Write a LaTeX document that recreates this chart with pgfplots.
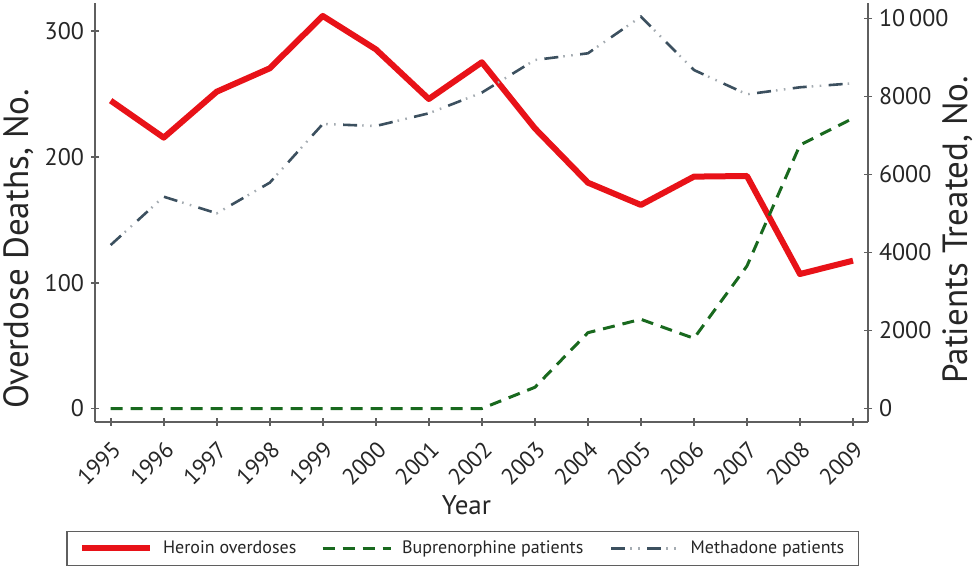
\documentclass[border=0pt]{standalone}
\usepackage{fontspec}
\setmainfont{PT Sans}
\usepackage{pgfplots}
\pgfplotsset{compat=1.18}
\definecolor{herored}{RGB}{232,18,24}
\definecolor{bupgreen}{RGB}{25,105,30}
\definecolor{methdark}{RGB}{60,80,95}
\definecolor{methlight}{RGB}{165,172,178}
\definecolor{axgray}{RGB}{95,95,95}
\begin{document}
\begin{tikzpicture}
\pgfplotsset{
  common/.style={
    width=386.5pt, height=209.35pt, scale only axis,
    xmin=1994.704, xmax=2009.283,
    tick align=outside, major tick length=4pt,
    tick style={axgray, line width=0.9pt},
    tick label style={font=\fontsize{12}{13}\selectfont, text=black!85},
    scaled x ticks=false, scaled y ticks=false,
    /pgf/number format/assume math mode=true,
    /pgf/number format/1000 sep={},
  },
  noarrows/.style={
    axis line style={axgray, line width=0.9pt, -},
    every outer x axis line/.append style={-},
    every outer y axis line/.append style={-},
    every inner x axis line/.append style={-},
    every inner y axis line/.append style={-},
    x axis line style={-}, y axis line style={-},
  }
}
\begin{axis}[common,
  axis x line=bottom, axis y line=left, noarrows,
  ymin=-10.5, ymax=322.3,
  ytick={0,100,200,300},
  xtick={1995,1996,...,2009},
  xticklabel style={rotate=45, anchor=north east, font=\fontsize{11.5}{12}\selectfont},
  xticklabel shift=2pt,
  xlabel={Year}, ylabel={Overdose Deaths, No.},
  xlabel style={at={(axis description cs:0.4806,-0.2228)}, anchor=base, font=\fontsize{13.5}{14}\selectfont, text=black!85},
  ylabel style={at={(axis description cs:-0.086,0.4125)}, anchor=base, font=\fontsize{17.5}{18}\selectfont, text=black!85},
]
\addplot[herored, line width=3pt, line join=round] coordinates {
(1995,244.7) (1996,215.3) (1997,251.8) (1998,270.4) (1999,312.0)
(2000,285.5) (2001,246.0) (2002,275.2) (2003,222.7) (2004,179.5)
(2005,161.8) (2006,184.3) (2007,184.8) (2008,106.9) (2009,117.5)};
\end{axis}
\begin{axis}[common,
  axis x line=none, axis y line=right, noarrows,
  ymin=-338, ymax=10397,
  ytick={0,2000,4000,6000,8000,10000},
  yticklabels={0,2000,4000,6000,8000,10\,000},
  ylabel={Patients Treated, No.},
  ylabel style={at={(axis description cs:1.129,0.458)}, anchor=base, font=\fontsize{17.5}{18}\selectfont, text=black!85},
  legend columns=3,
  legend style={at={(axis description cs:0.4759,-0.3028)}, anchor=center,
    draw=axgray, line width=0.6pt, inner xsep=6pt, inner ysep=4.5pt,
    font=\fontsize{9}{10}\selectfont, text=black!85,
    nodes={inner sep=0pt},
    /tikz/every odd column/.append style={column sep=5pt},
    /tikz/every even column/.append style={column sep=12pt}},
  legend image code/.code={\draw[#1] (0pt,0pt) -- (34pt,0pt);},
]
\addlegendimage{herored, line width=3pt}
\addlegendentry{\makebox[67pt][l]{Heroin overdoses}}
\addplot[bupgreen, line width=1.5pt, dash pattern=on 6pt off 4pt, line join=round] coordinates {
(1995,0) (1996,0) (1997,0) (1998,0) (1999,0) (2000,0) (2001,0) (2002,0)
(2003,544) (2004,1944) (2005,2287) (2006,1800) (2007,3654) (2008,6756) (2009,7441)};
\addlegendentry{\makebox[92pt][l]{Buprenorphine patients}}
\addplot[methlight, line width=1.2pt, dash pattern=on 0pt off 9.5pt on 0.8pt off 3.2pt on 0.8pt off 3.7pt, forget plot] coordinates {
(1995,4192) (1996,5431) (1997,5005) (1998,5790) (1999,7295) (2000,7243)
(2001,7569) (2002,8100) (2003,8936) (2004,9107) (2005,10046) (2006,8679)
(2007,8056) (2008,8236) (2009,8338)};
\addplot[methdark, line width=1.3pt, dash pattern=on 7pt off 11pt, forget plot] coordinates {
(1995,4192) (1996,5431) (1997,5005) (1998,5790) (1999,7295) (2000,7243)
(2001,7569) (2002,8100) (2003,8936) (2004,9107) (2005,10046) (2006,8679)
(2007,8056) (2008,8236) (2009,8338)};
\addlegendimage{legend image code/.code={
  \draw[methlight, line width=1.2pt, dash pattern=on 0pt off 9.5pt on 0.8pt off 3.2pt on 0.8pt off 3.7pt] (0pt,0pt) -- (34pt,0pt);
  \draw[methdark, line width=1.3pt, dash pattern=on 7pt off 11pt] (0pt,0pt) -- (34pt,0pt);}}
\addlegendentry{\makebox[78pt][l]{Methadone patients}}
\end{axis}
\pgfresetboundingbox
\path[use as bounding box] (-47.5pt,-73.65pt) rectangle (440pt,210.85pt);
\end{tikzpicture}
\end{document}
